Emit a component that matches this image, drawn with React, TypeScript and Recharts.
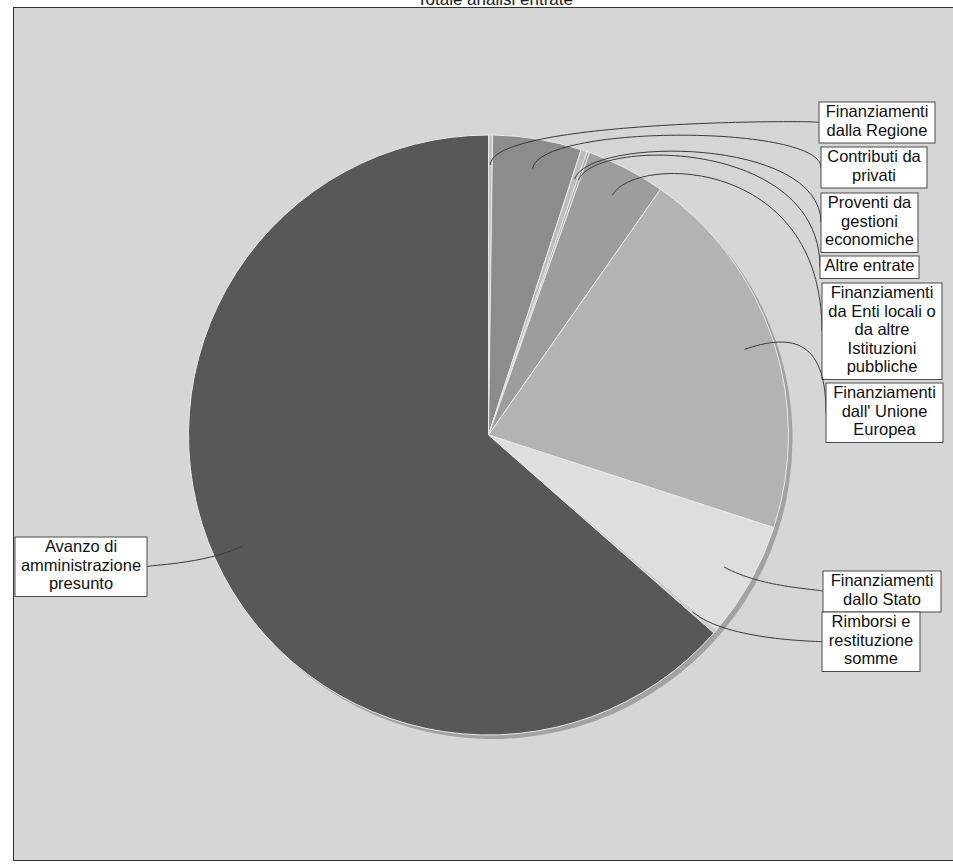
import { Cell, Pie, PieChart } from "recharts";

// Totale analisi entrate — ripartizione delle entrate per fonte.
// Le etichette usano "\n" per andare a capo come nel riquadro originale.

const categories = [
  "Finanziamenti\ndalla Regione",
  "Contributi da\nprivati",
  "Proventi da\ngestioni\neconomiche",
  "Altre entrate",
  "Finanziamenti\nda Enti locali o\nda altre\nIstituzioni\npubbliche",
  "Finanziamenti\ndall' Unione\nEuropea",
  "Finanziamenti\ndallo Stato",
  "Rimborsi e\nrestituzione\nsomme",
  "Avanzo di\namministrazione\npresunto",
];

const values = [0.22, 4.78, 0.33, 0.14, 4.25, 20.28, 6.25, 0.22, 63.53];

const sliceColors = [
  "#c4c4c4",
  "#8c8c8c",
  "#bdbdbd",
  "#a6a6a6",
  "#9d9d9d",
  "#b3b3b3",
  "#dedede",
  "#cdcdcd",
  "#585858",
];

// layout dei riquadri etichetta (left, top, width)
const labelBoxes = [
  { x: 819, y: 102, w: 116 },
  { x: 821, y: 147, w: 106 },
  { x: 821, y: 193, w: 97 },
  { x: 820, y: 256, w: 99 },
  { x: 822, y: 283, w: 120 },
  { x: 826, y: 383, w: 117 },
  { x: 823, y: 571, w: 118 },
  { x: 822, y: 612, w: 98 },
  { x: 15, y: 537, w: 132 },
];

const data = categories.map((c, i) => ({
  name: c.replace(/\n/g, " "),
  value: values[i],
}));

const FONT = "'Liberation Sans', Arial, sans-serif";
const FONT_SIZE = 16.5;
const LINE_H = 18.5;
const RAD = Math.PI / 180;

function renderLabel(props: any) {
  const { cx, cy, midAngle, outerRadius, index } = props;
  const box = labelBoxes[index];
  const lines = categories[index].split("\n");
  const h = lines.length * LINE_H + 4;

  const cos = Math.cos(-midAngle * RAD);
  const sin = Math.sin(-midAngle * RAD);
  const ax = cx + outerRadius * 0.9 * cos;
  const ay = cy + outerRadius * 0.9 * sin;
  const px = ax + outerRadius * 0.15 * cos;
  const py = ay + outerRadius * 0.15 * sin;

  const right = box.x > cx;
  const ex = right ? box.x : box.x + box.w;
  const ey = box.y + h / 2;

  return (
    <g key={`lbl-${index}`}>
      <path
        d={`M${ax},${ay} C${px},${py} ${ex},${py} ${ex},${ey}`}
        fill="none"
        stroke="#3a3a3a"
        strokeWidth={1}
      />
      <rect
        x={box.x}
        y={box.y}
        width={box.w}
        height={h}
        fill="#ffffff"
        stroke="#4a4a4a"
        strokeWidth={1}
      />
      {lines.map((ln, j) => (
        <text
          key={j}
          x={box.x + box.w / 2}
          y={box.y + 15 + j * LINE_H}
          textAnchor="middle"
          fontFamily={FONT}
          fontSize={FONT_SIZE}
          fill="#111111"
        >
          {ln}
        </text>
      ))}
    </g>
  );
}

export default function App() {
  return (
    <div
      style={{
        position: "absolute",
        left: 0,
        top: 0,
        width: 953,
        height: 865,
        background: "#ffffff",
        overflow: "hidden",
        fontFamily: FONT,
      }}
    >
      <div
        style={{
          position: "absolute",
          left: 13,
          top: 7,
          width: 960,
          height: 852,
          background: "#d6d6d6",
          borderTop: "1.5px solid #333",
          borderLeft: "1.5px solid #333",
          borderBottom: "1.5px solid #333",
        }}
      />
      <div
        style={{
          position: "absolute",
          left: 375,
          top: -10,
          width: 240,
          textAlign: "center",
          fontSize: 17,
          color: "#1a1a1a",
        }}
      >
        Totale analisi entrate
      </div>
      <div style={{ position: "absolute", left: 0, top: 0 }}>
        <PieChart
          width={953}
          height={865}
          margin={{ top: 0, right: 0, bottom: 0, left: 0 }}
        >
          <Pie
            data={data}
            dataKey="value"
            nameKey="name"
            cx={492.5}
            cy={439}
            outerRadius={300}
            startAngle={90}
            endAngle={-270}
            fill="#a2a2a2"
            stroke="none"
            label={false}
            labelLine={false}
            isAnimationActive={false}
          />
          <Pie
            data={data}
            dataKey="value"
            nameKey="name"
            cx={488.5}
            cy={435}
            outerRadius={300}
            startAngle={90}
            endAngle={-270}
            stroke="#e8e8e8"
            strokeWidth={1}
            label={renderLabel}
            labelLine={false}
            isAnimationActive={false}
          >
            {data.map((d, i) => (
              <Cell key={d.name} fill={sliceColors[i]} />
            ))}
          </Pie>
        </PieChart>
      </div>
    </div>
  );
}
